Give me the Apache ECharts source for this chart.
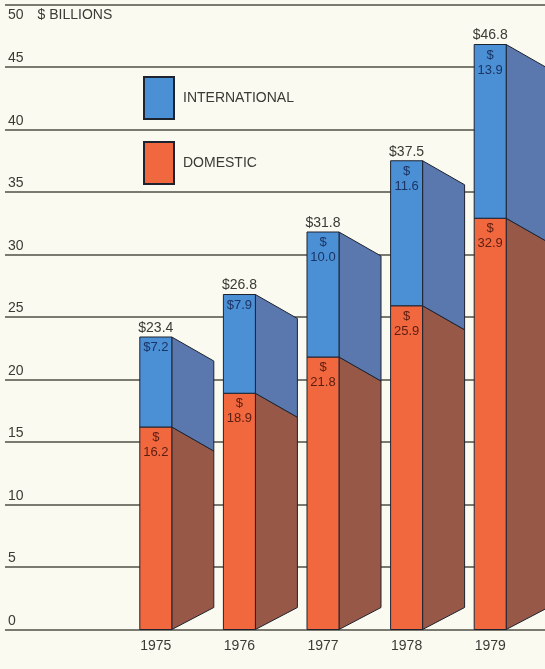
<!DOCTYPE html>
<html>
<head>
<meta charset="utf-8">
<style>
  html, body { margin: 0; padding: 0; background: #fbfaf0; }
  #chart { width: 545px; height: 669px; }
</style>
<script src="https://cdn.jsdelivr.net/npm/echarts@6/dist/echarts.min.js"></script>
</head>
<body>
<div id="chart"></div>
<script>
// Revenue by year, $ billions
const years = ['1975', '1976', '1977', '1978', '1979'];
const domestic = [16.2, 18.9, 21.8, 25.9, 32.9];
const international = [7.2, 7.9, 10.0, 11.6, 13.9];
const yMin = 0, yMax = 50, yStep = 5;

const FONT = '"Liberation Sans", Arial, sans-serif';
const HALF = 16;      // half width of the front face
const DEPTH = 42;     // horizontal extent of the side face
const DROP = 24;      // how far the side's top edge falls
const RISE = 22;      // how far the side's bottom edge climbs
const EDGE = '#1e2330';

const colors = {
  intlFront: '#4b8fd5', intlSide: '#5a78ad',
  domFront: '#f1683f', domSide: '#985848'
};

function makeRender(kind) {
  return function (params, api) {
    const i = api.value(0), lo = api.value(1), hi = api.value(2);
    const pLo = api.coord([i, lo]);
    const pHi = api.coord([i, hi]);
    const base = api.coord([i, 0])[1];
    const xL = pLo[0] - HALF, xR = pLo[0] + HALF;
    const yT = pHi[1], yB = pLo[1];
    const front = kind === 'dom' ? colors.domFront : colors.intlFront;
    const side = kind === 'dom' ? colors.domSide : colors.intlSide;
    const sideBottom = kind === 'dom' ? base - RISE : yB + DROP;
    const children = [
      {
        type: 'polygon',
        shape: { points: [[xR, yT], [xR + DEPTH, yT + DROP], [xR + DEPTH, sideBottom], [xR, yB]] },
        style: { fill: side, stroke: EDGE, lineWidth: 1 }
      },
      {
        type: 'rect',
        shape: { x: xL, y: yT, width: HALF * 2, height: yB - yT },
        style: { fill: front, stroke: EDGE, lineWidth: 1 }
      }
    ];
    const seg = hi - lo;
    const segText = (kind === 'intl' && seg < 10) ? '$' + seg.toFixed(1) : '$\n' + seg.toFixed(1);
    children.push({
      type: 'text',
      style: {
        text: segText, x: pLo[0], y: yT + 3, align: 'center', verticalAlign: 'top',
        fill: kind === 'dom' ? '#5b1d12' : '#1c3463', font: '13px ' + FONT, lineHeight: 15
      }
    });
    if (kind === 'intl') {
      children.push({
        type: 'text',
        style: {
          text: '$' + hi.toFixed(1), x: pLo[0], y: yT - 2, align: 'center', verticalAlign: 'bottom',
          fill: '#3a3a36', font: '14px ' + FONT
        }
      });
    }
    return { type: 'group', children: children };
  };
}

const domData = years.map((y, i) => [i, 0, domestic[i]]);
const intlData = years.map((y, i) => [i, domestic[i], +(domestic[i] + international[i]).toFixed(1)]);

const chart = echarts.init(document.getElementById('chart'));
chart.setOption({
  backgroundColor: '#fbfaf0',
  animation: false,
  legend: {
    data: ['INTERNATIONAL', 'DOMESTIC'],
    orient: 'vertical',
    left: 143, top: 76, padding: 0,
    itemWidth: 30, itemHeight: 42, itemGap: 21,
    icon: 'rect',
    textStyle: { fontFamily: FONT, fontSize: 14, color: '#3a3a36', padding: [7, 0, 0, 4] },
    selectedMode: false
  },
  grid: [
    { left: 5, right: 0, top: 4.5, bottom: 39.5 },
    { left: 114, right: 13, top: 4.5, bottom: 39.5 }
  ],
  xAxis: [
    { type: 'value', gridIndex: 0, show: false, min: 0, max: 1 },
    {
      type: 'category', gridIndex: 1, data: years,
      axisLine: { show: false }, axisTick: { show: false },
      axisLabel: { margin: 10, fontFamily: FONT, fontSize: 14, color: '#3a3a36' }
    }
  ],
  yAxis: [
    {
      type: 'value', gridIndex: 0, min: yMin, max: yMax, interval: yStep,
      axisLine: { show: false }, axisTick: { show: false },
      splitLine: { show: true, lineStyle: { color: '#4f4f46', width: 1.5 } },
      axisLabel: {
        inside: true, margin: 3, align: 'left', verticalAlign: 'middle',
        formatter: v => v === yMax ? '{top|' + v + '}{unit|$ BILLIONS}' : '{n|' + v + '}',
        rich: {
          n: { fontFamily: FONT, fontSize: 14, color: '#3a3a36', padding: [0, 0, 17, 0] },
          top: { fontFamily: FONT, fontSize: 14, color: '#3a3a36', padding: [21, 0, 0, 0] },
          unit: { fontFamily: FONT, fontSize: 14, color: '#3a3a36', padding: [21, 0, 0, 14] }
        }
      }
    },
    { type: 'value', gridIndex: 1, min: yMin, max: yMax, interval: yStep, show: false }
  ],
  series: [
    {
      name: 'DOMESTIC', type: 'custom', xAxisIndex: 1, yAxisIndex: 1,
      renderItem: makeRender('dom'), data: domData,
      encode: { x: 0, y: [1, 2] },
      itemStyle: { color: colors.domFront, borderColor: EDGE, borderWidth: 1 }
    },
    {
      name: 'INTERNATIONAL', type: 'custom', xAxisIndex: 1, yAxisIndex: 1,
      renderItem: makeRender('intl'), data: intlData,
      encode: { x: 0, y: [1, 2] },
      itemStyle: { color: colors.intlFront, borderColor: EDGE, borderWidth: 1 }
    }
  ]
});
</script>
</body>
</html>
